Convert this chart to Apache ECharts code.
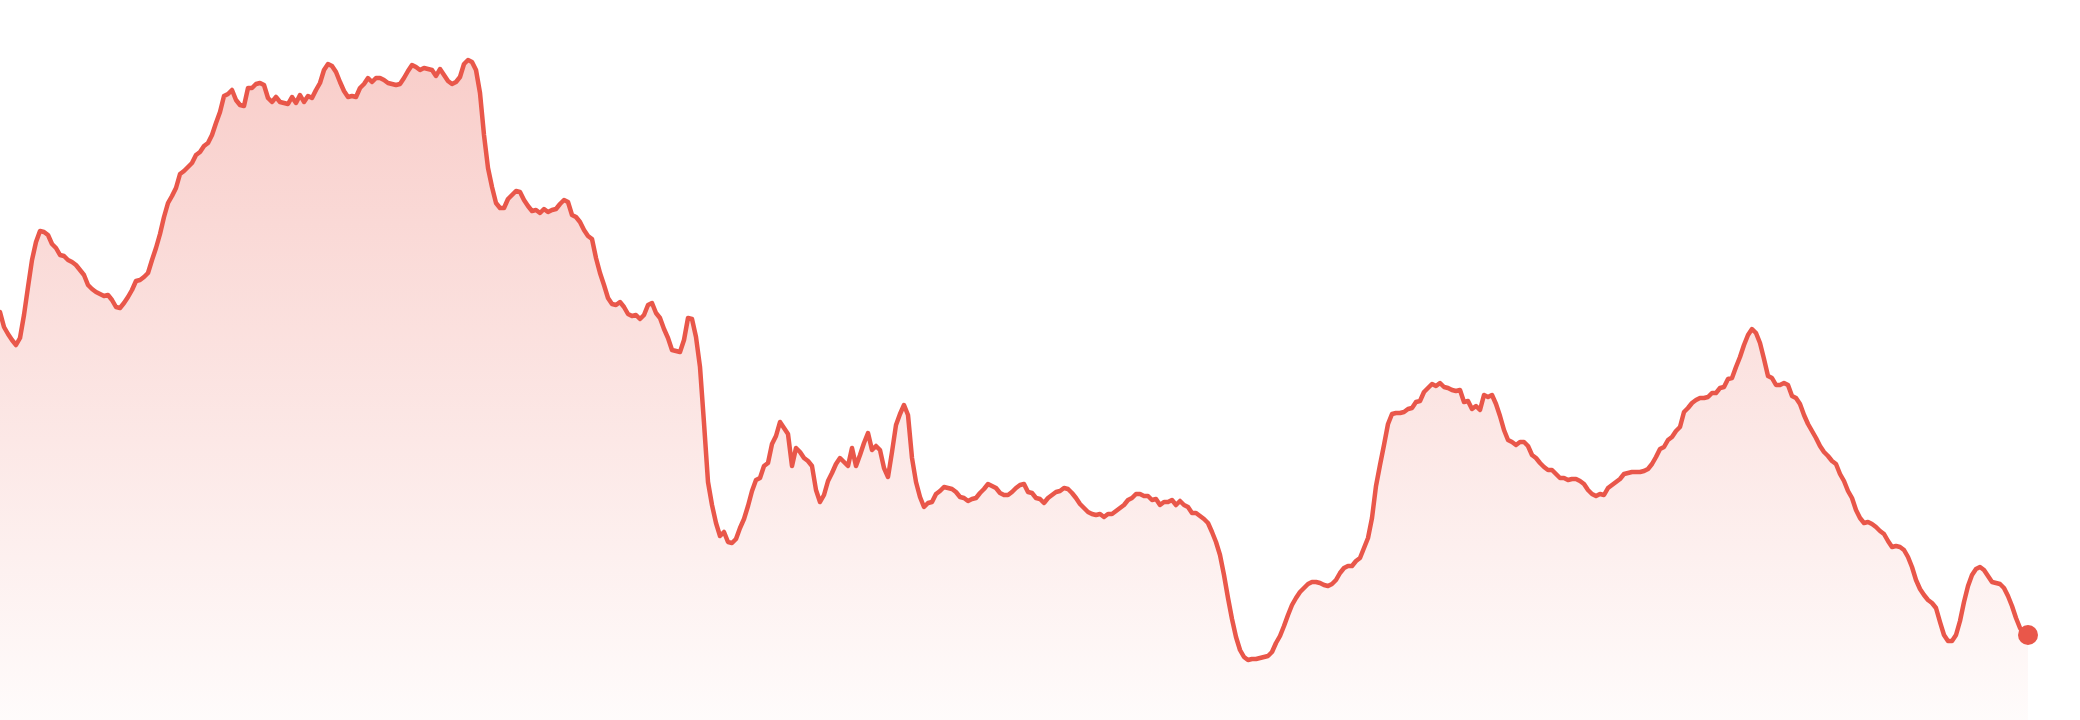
<!DOCTYPE html>
<html>
<head>
<meta charset="utf-8">
<style>
  html, body { margin: 0; padding: 0; background: #ffffff; }
  #chart { width: 2080px; height: 720px; }
</style>
<script src="https://cdn.jsdelivr.net/npm/echarts@6/dist/echarts.min.js"></script>
</head>
<body>
<div id="chart"></div>
<script>
// Series values, one point per step
const seg1 = [408,393,386,380,375,382,405,433,460,478,489,488,485,476,472,465,464,460,458,455,450,445,435,431,428,426,424,425,420,413,412,417,423,430,439,440,443,447,460,472,486,503,517,524,532,546,549,553,557,565,568,574,577,585,597,608,624,626,630,620,615,614,632,632,636,637];
const seg2 = [635,622,618,623,618,617,616,623,617,625,618,624,622,630,637,650,656,654,648,638,629,623,624,623,632,636,642,638,642,642,640,637,636,635,636,642,649,655,653,650,652,651,650,644,651,645,639,636,638,643,656,660,658,650,627,585,552,533,517,512];
const seg3 = [512,521,525,529,528,520,514,509,510,507,511,508,510,511,516,520,518,505,503,498,490,484,481,462,447,435,422,416,415,418,413,406,404,405,401,405,415,417,407,402,391,382,370,369,368,380,402,401,383,353,297,238,215,197,184,188,178,177,181,192,201,214,229,240];
const seg4 = [242,254,257,276,284,298,292,286,254,272,268,262,259,254,230,218,225,239,247,256,262,258,254,272,254,265,277,287,270,274,270,252,243,268,295,306,315,305,262,238,223,213,217,218,226,229,233,232,231,228,223,222,219,221,222,227,231,236,234,232,227];
const seg5 = [225,225,228,232,235,236,228,227,222,221,217,222,225,228,229,232,231,227,222,216,212,208,206,205,206,203,206,206,209,212,215,220,222,226,226,224,224,220,221,215,218,218,220,215,219,215,213,207,207,204,201,197,188,178,165,145,122,101,83,70,63,60,61,61];
const seg6 = [62,63,64,68,77,84,94,105,115,122,128,132,136,138,138,137,135,134,136,140,147,152,154,154,159,162,172,182,202,234,255,275,296,306,307,307,308,311,312,318,319,328,332,336,334,337,333,332,330,329,330,318,319,311,314,310,325,323,325,316,304,290,280];
const seg7 = [278,275,278,278,274,265,262,257,253,250,250,246,242,242,240,241,241,239,236,230,226,224,226,225,232,235,238,241,246,247,248,248,248,249,251,256,263,271,273,280,283,289,293,308,312,317,320,322,322,323,327,327,332,333,341,342,353,363,375,385,391,387];
const seg8 = [377,361,344,342,335,335,337,335,324,322,316,305,296,289,282,274,268,264,259,256,246,239,229,222,210,202,197,198,196,193,189,186,179,173,174,173,170,163,153,140,131,125,120,117,112,98,85,79,79,85,99,118,134,145,151,153,150,144,138,137,136,132,124,114,102,92,86,85];

const values = [].concat(seg1, seg2, seg3, seg4, seg5, seg6, seg7, seg8);
const categories = values.map((_, i) => String(i + 1));

const lineColor = '#e9574a';
const chart = echarts.init(document.getElementById('chart'), null, { renderer: 'canvas' });
const lastIdx = values.length - 1;

chart.setOption({
  animation: false,
  backgroundColor: '#ffffff',
  grid: { left: 0, right: 52, top: 0, bottom: 0, containLabel: false },
  xAxis: {
    type: 'category',
    data: categories,
    boundaryGap: false,
    show: false
  },
  yAxis: {
    type: 'value',
    min: 0,
    max: 720,
    show: false
  },
  series: [{
    type: 'line',
    data: values,
    showSymbol: false,
    smooth: false,
    lineStyle: { color: lineColor, width: 4.5, join: 'round', cap: 'round' },
    itemStyle: { color: lineColor },
    areaStyle: {
      color: new echarts.graphic.LinearGradient(0, 0, 0, 1, [
        { offset: 0, color: 'rgba(233,87,74,0.42)' },
        { offset: 1, color: 'rgba(233,87,74,0.03)' }
      ])
    },
    markPoint: {
      symbol: 'circle',
      symbolSize: 20,
      silent: true,
      label: { show: false },
      itemStyle: { color: lineColor },
      data: [{ coord: [categories[lastIdx], values[lastIdx]] }]
    }
  }]
});
</script>
</body>
</html>
